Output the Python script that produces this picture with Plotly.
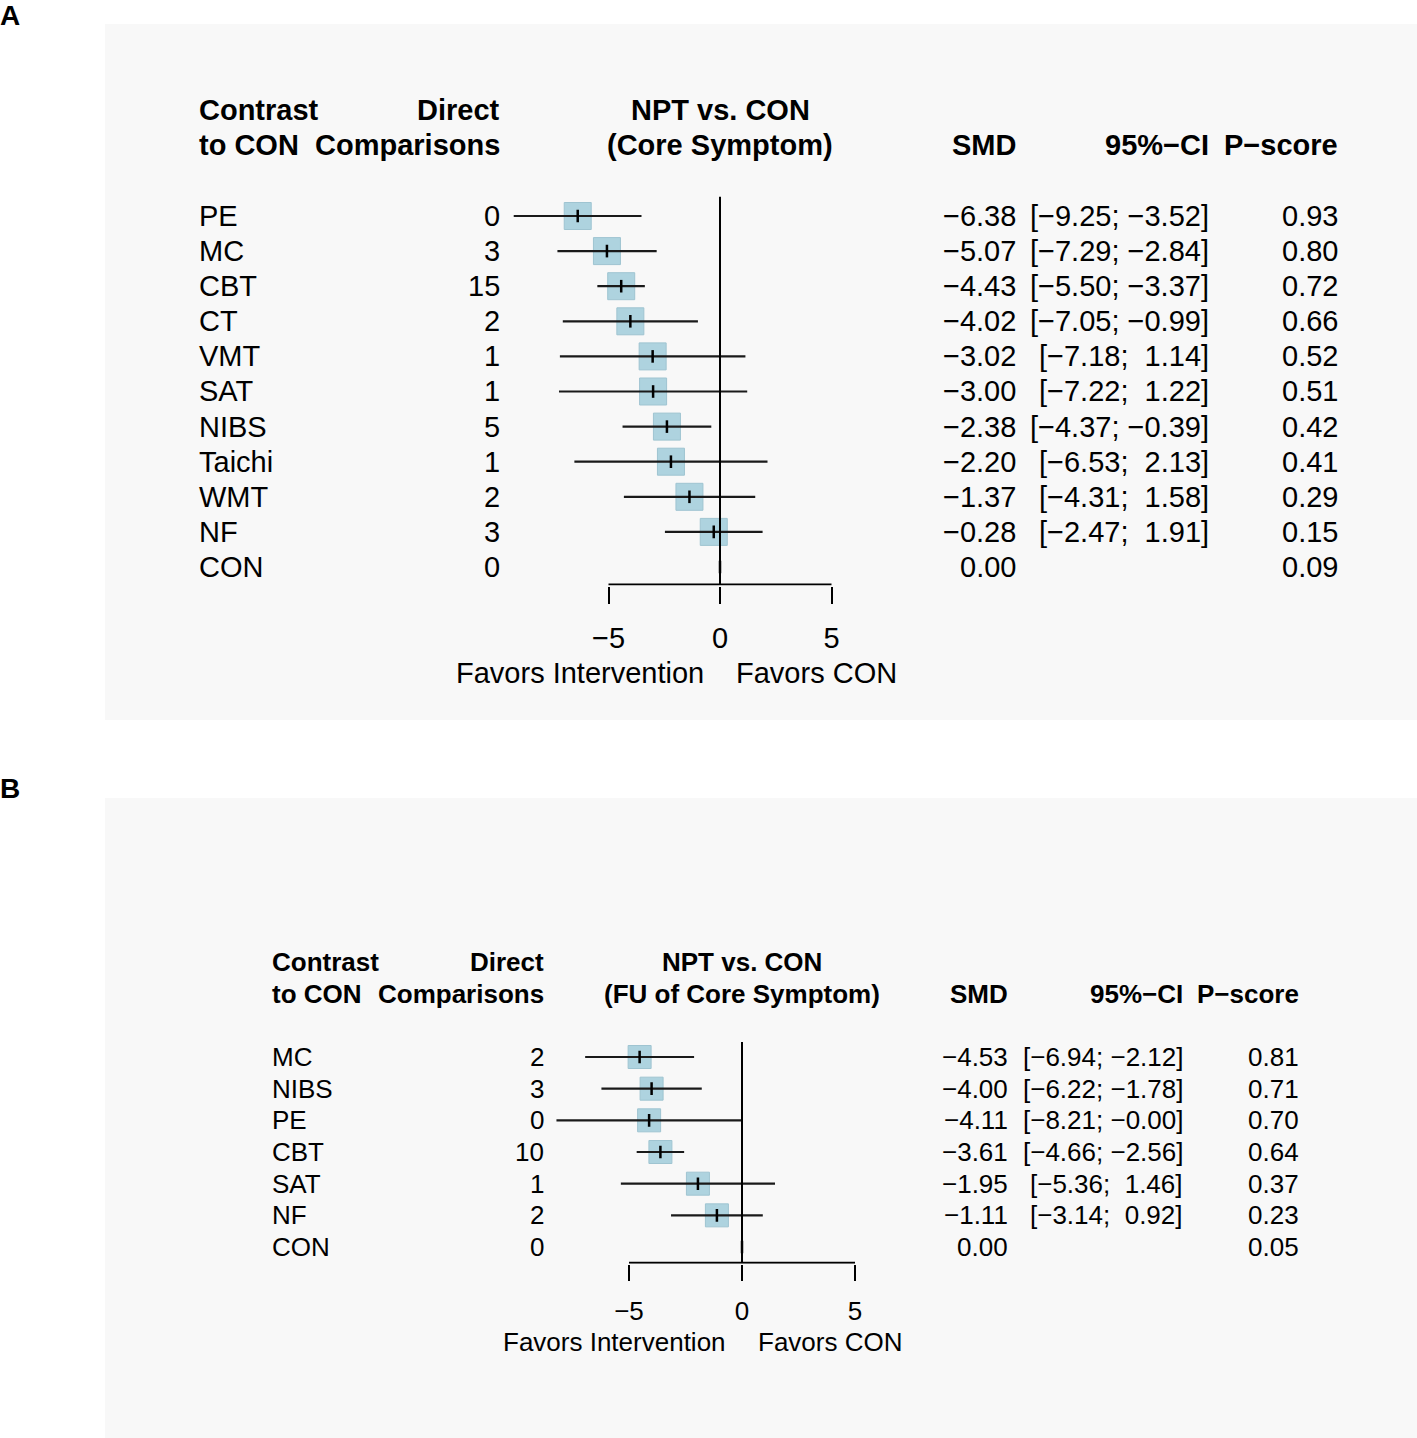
import plotly.graph_objects as go

# ---- data: panel A (core symptom) ----
a_treat = ["PE", "MC", "CBT", "CT", "VMT", "SAT", "NIBS", "Taichi", "WMT", "NF", "CON"]
a_direct = [0, 3, 15, 2, 1, 1, 5, 1, 2, 3, 0]
a_smd = [-6.38, -5.07, -4.43, -4.02, -3.02, -3.00, -2.38, -2.20, -1.37, -0.28, 0.00]
a_lower = [-9.25, -7.29, -5.50, -7.05, -7.18, -7.22, -4.37, -6.53, -4.31, -2.47, None]
a_upper = [-3.52, -2.84, -3.37, -0.99, 1.14, 1.22, -0.39, 2.13, 1.58, 1.91, None]
a_pscore = [0.93, 0.80, 0.72, 0.66, 0.52, 0.51, 0.42, 0.41, 0.29, 0.15, 0.09]

# ---- data: panel B (follow-up of core symptom) ----
b_treat = ["MC", "NIBS", "PE", "CBT", "SAT", "NF", "CON"]
b_direct = [2, 3, 0, 10, 1, 2, 0]
b_smd = [-4.53, -4.00, -4.11, -3.61, -1.95, -1.11, 0.00]
b_lower = [-6.94, -6.22, -8.21, -4.66, -5.36, -3.14, None]
b_upper = [-2.12, -1.78, -0.0, -2.56, 1.46, 0.92, None]
b_pscore = [0.81, 0.71, 0.70, 0.64, 0.37, 0.23, 0.05]

ticks = [-5, 0, 5]

W, H = 1417, 1438
FONT = "Liberation Sans, Arial, sans-serif"
SQ_COL = "#aed3df"
NB = "\u00a0"
MINUS = "\u2212"


def px(x):
    return x / W


def py(y):
    return 1 - y / H


def fmt(v, pad=""):
    s = f"{v:.2f}".replace("-", MINUS)
    if not s.startswith(MINUS):
        s = pad + s
    return s


def fmt_ci(lo, hi):
    if lo is None:
        return ""
    return "[" + fmt(lo) + ";" + NB + fmt(hi, NB) + "]"


fig = go.Figure()

panels = [
    dict(treat=a_treat, direct=a_direct, smd=a_smd, lo=a_lower, hi=a_upper, p=a_pscore,
         xa="x", ya="y", row0=216, rowh=35.1, x0=720, unit=22.3, xl=500, xr=940,
         top=0.4, zline_top=0.45, fs=29, sq=27, ticklen=17, standoff=10,
         bg=(24, 720), letter="A", letter_y=15,
         cols=dict(lab=199, n=499, smd=1015, ci=1208, p=1337, mid=720),
         head_y=(110, 145), sub="(Core Symptom)", fav_y=673),
    dict(treat=b_treat, direct=b_direct, smd=b_smd, lo=b_lower, hi=b_upper, p=b_pscore,
         xa="x2", ya="y2", row0=1057, rowh=31.67, x0=742, unit=22.6, xl=520, xr=964,
         top=0.45, zline_top=0.53, fs=26, sq=23, ticklen=16, standoff=8,
         bg=(798, 1438), letter="B", letter_y=788,
         cols=dict(lab=272, n=543, smd=1007, ci=1182, p=1298, mid=742),
         head_y=(962, 994), sub="(FU of Core Symptom)", fav_y=1342),
]

for i, P in enumerate(panels):
    n = len(P["treat"])
    rows = list(range(1, n + 1))
    axis_row = n + 0.5
    bottom = axis_row + 0.03
    xa, ya = P["xa"], P["ya"]

    # grey panel background
    fig.add_shape(type="rect", xref="paper", yref="paper", x0=px(105), x1=1,
                  y0=py(P["bg"][1]), y1=py(P["bg"][0]), fillcolor="#f8f8f8",
                  line_width=0, layer="below")
    fig.add_annotation(xref="paper", yref="paper", x=0, y=py(P["letter_y"]),
                       xanchor="left", yanchor="middle", showarrow=False, xshift=-2,
                       text="<b>" + P["letter"] + "</b>", font=dict(size=28, color="black"))

    est = [k for k in range(n) if P["lo"][k] is not None]
    # squares
    fig.add_trace(go.Scatter(
        x=[P["smd"][k] for k in est], y=[rows[k] for k in est], mode="markers",
        marker=dict(symbol="square", size=P["sq"], color=SQ_COL,
                    line=dict(color="#9fc4d1", width=1)),
        xaxis=xa, yaxis=ya, hoverinfo="skip", showlegend=False))
    # confidence intervals
    fig.add_trace(go.Scatter(
        x=[P["smd"][k] for k in est], y=[rows[k] for k in est], mode="markers",
        marker=dict(size=1, color="rgba(0,0,0,0)"),
        error_x=dict(type="data", symmetric=False,
                     array=[P["hi"][k] - P["smd"][k] for k in est],
                     arrayminus=[P["smd"][k] - P["lo"][k] for k in est],
                     color="#1a1a1a", thickness=2.2, width=0),
        xaxis=xa, yaxis=ya, hoverinfo="skip", showlegend=False))
    # point estimate ticks
    fig.add_trace(go.Scatter(
        x=P["smd"], y=rows, mode="markers",
        marker=dict(symbol="line-ns", size=9, line=dict(color="black", width=2.5)),
        xaxis=xa, yaxis=ya, hoverinfo="skip", showlegend=False))
    # line of no effect
    fig.add_trace(go.Scatter(
        x=[0, 0], y=[P["zline_top"], axis_row], mode="lines",
        line=dict(color="black", width=2), xaxis=xa, yaxis=ya,
        hoverinfo="skip", showlegend=False))
    # axis line between outer ticks
    fig.add_trace(go.Scatter(
        x=[min(ticks), max(ticks)], y=[axis_row, axis_row], mode="lines",
        line=dict(color="black", width=2), xaxis=xa, yaxis=ya,
        hoverinfo="skip", showlegend=False))

    half = (P["xr"] - P["x0"]) / P["unit"]
    xl_rng = -(P["x0"] - P["xl"]) / P["unit"]
    y_top_px = P["row0"] + (P["top"] - 1) * P["rowh"]
    y_bot_px = P["row0"] + (bottom - 1) * P["rowh"]
    xname = "xaxis" if i == 0 else "xaxis2"
    yname = "yaxis" if i == 0 else "yaxis2"
    fig.update_layout(**{
        xname: dict(domain=[px(P["xl"]), px(P["xr"])], range=[xl_rng, half],
                    anchor=ya, tickvals=ticks, ticktext=[str(t).replace("-", MINUS) for t in ticks],
                    ticks="outside", ticklen=P["ticklen"], tickwidth=2, tickcolor="black",
                    showline=False, showgrid=False, zeroline=False,
                    tickfont=dict(size=P["fs"], color="black"),
                    ticklabelstandoff=P["standoff"]),
        yname: dict(domain=[py(y_bot_px), py(y_top_px)], range=[bottom, P["top"]],
                    anchor=xa, visible=False, showgrid=False, zeroline=False),
    })

    c = P["cols"]
    fs = P["fs"]

    def ann(text, x, y, anchor, yref="paper", bold=False, xref="paper", xshift=None):
        if xshift is None:
            xshift = {"left": -2, "right": 3, "center": 0}[anchor]
        fig.add_annotation(xref=xref, yref=yref, x=x, y=y, xanchor=anchor,
                           yanchor="middle", showarrow=False, xshift=xshift,
                           text=("<b>" + text + "</b>") if bold else text,
                           font=dict(size=fs, color="black"))

    # headers
    hy1, hy2 = py(P["head_y"][0]), py(P["head_y"][1])
    ann("Contrast", px(c["lab"]), hy1, "left", bold=True)
    ann("to CON", px(c["lab"]), hy2, "left", bold=True)
    ann("Direct", px(c["n"]), hy1, "right", bold=True)
    ann("Comparisons", px(c["n"]), hy2, "right", bold=True)
    ann("NPT vs. CON", px(c["mid"]), hy1, "center", bold=True)
    ann(P["sub"], px(c["mid"]), hy2, "center", bold=True)
    ann("SMD", px(c["smd"]), hy2, "right", bold=True)
    ann("95%" + MINUS + "CI", px(c["ci"]), hy2, "right", bold=True)
    ann("P" + MINUS + "score", px(c["p"]), hy2, "right", bold=True)

    # row texts
    for k in range(n):
        r = rows[k]
        ann(P["treat"][k], px(c["lab"]), r, "left", yref=ya)
        ann(str(P["direct"][k]), px(c["n"]), r, "right", yref=ya)
        ann(fmt(P["smd"][k]), px(c["smd"]), r, "right", yref=ya)
        ci = fmt_ci(P["lo"][k], P["hi"][k])
        if ci:
            ann(ci, px(c["ci"]), r, "right", yref=ya)
        ann(f"{P['p'][k]:.2f}", px(c["p"]), r, "right", yref=ya)

    # favours labels
    ann("Favors Intervention", 0, py(P["fav_y"]), "right", xref=xa, xshift=-14)
    ann("Favors CON", 0, py(P["fav_y"]), "left", xref=xa, xshift=14)

fig.update_layout(
    width=W, height=H, margin=dict(l=0, r=0, t=0, b=0),
    paper_bgcolor="white", plot_bgcolor="rgba(0,0,0,0)",
    font=dict(family=FONT, color="black"), showlegend=False,
)

fig.write_html("out.html", config={"displayModeBar": False},
               post_script="document.body.style.margin='0';document.body.style.overflow='hidden';")
